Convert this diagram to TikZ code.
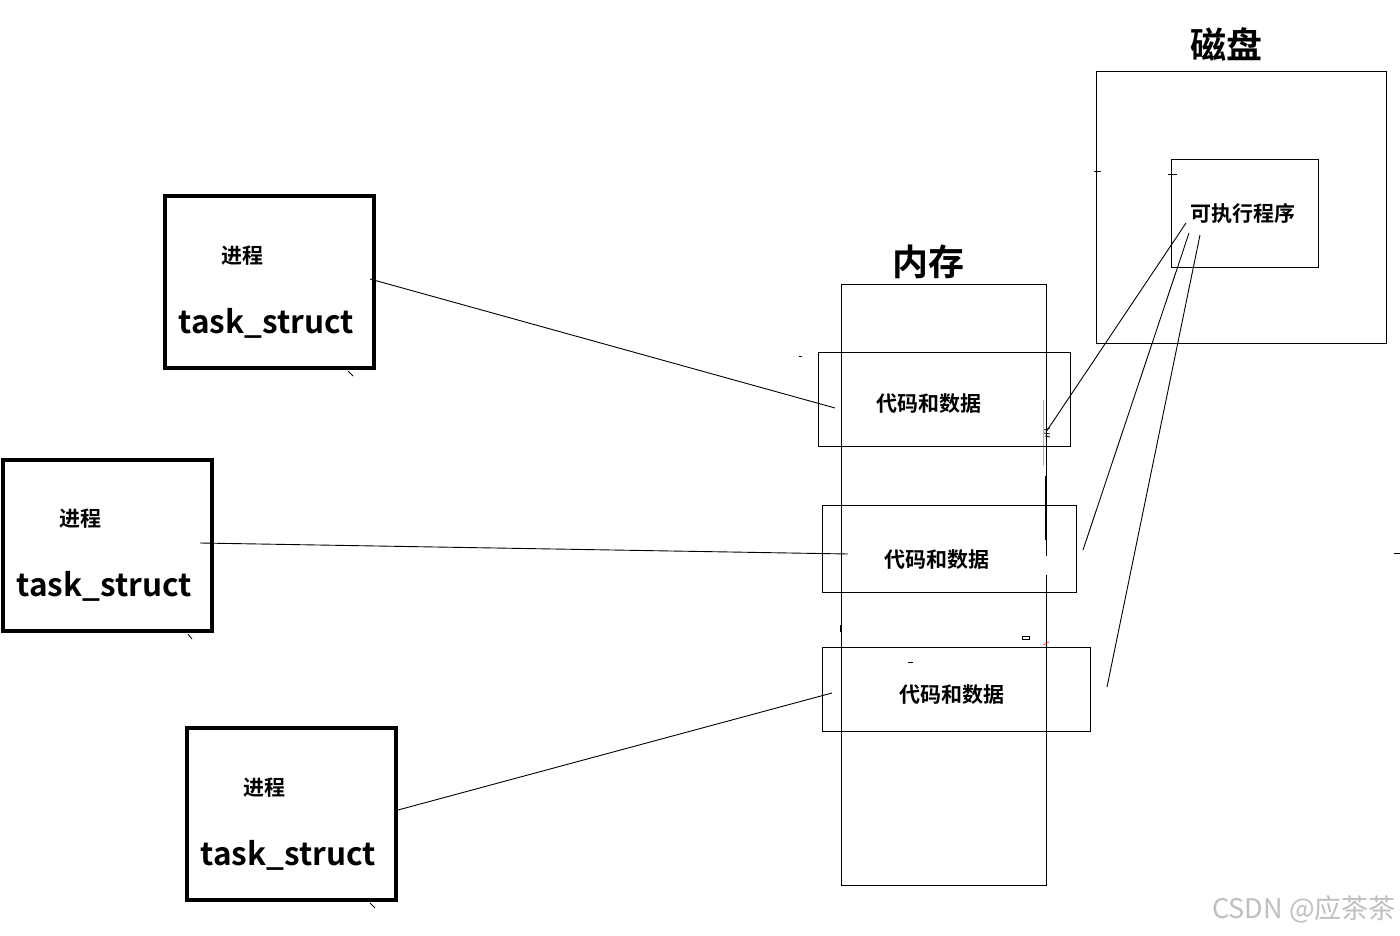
\documentclass[tikz,border=0pt]{standalone}
\usepackage{fontspec}
\setmainfont{Noto Sans CJK SC}
\newfontfamily\cjkb{Noto Sans CJK SC Bold}
\newfontfamily\cjkl{Noto Sans CJK SC Light}
\begin{document}
\begin{tikzpicture}[x=1pt,y=-1pt,
  proc/.style={draw,line width=4pt},
  thin/.style={draw,line width=1pt},
  small/.style={font=\cjkb\fontsize{21}{23}\selectfont},
  big/.style={font=\cjkb\fontsize{31.5}{35}\selectfont},
  title/.style={font=\cjkb\fontsize{36}{40}\selectfont},
  link/.style={line width=0.9pt},
  stray/.style={line width=0.8pt}]
\useasboundingbox[fill=white] (0,0) rectangle (1400,936);

% process boxes
\draw[proc] (165,196) rectangle (374,368);
\node[small] (p1) at (242,256) {进程};
\node[big] (t1) at (266,323) {task\_struct};
\draw[proc] (3,460) rectangle (212,631);
\node[small] (p2) at (80,519) {进程};
\node[big] (t2) at (104,586) {task\_struct};
\draw[proc] (187,728) rectangle (396,900);
\node[small] (p3) at (264,788) {进程};
\node[big] (t3) at (288,855) {task\_struct};

% memory
\node[title] (memt) at (928,262) {内存};
\draw[thin] (841,284) rectangle (1046,885);
\draw[line width=2pt] (1046,476) -- (1046,540);
\draw[line width=1.5pt, white] (1047,556) -- (1047,575);
\draw[line width=0.7pt, gray!60] (1043,400) -- (1043,466);

% code boxes
\draw[thin] (818,352) rectangle (1070,446);
\node[small] (c1) at (929,404) {代码和数据};
\draw[thin] (822,505) rectangle (1076,592);
\node[small] (c2) at (937,560) {代码和数据};
\draw[thin] (822,647) rectangle (1090,731);
\node[small] (c3) at (952,695) {代码和数据};

% disk
\node[title] (diskt) at (1226,44) {磁盘};
\draw[thin] (1096,72) rectangle (1386,343);
\draw[thin] (1171,160) rectangle (1318,267);
\node[small] (exe) at (1243,213) {可执行程序};

% links process -> code
\coordinate (a1) at (370,279); \coordinate (b1) at (835,408);
\coordinate (a2) at (200,543); \coordinate (b2) at (848,554);
\coordinate (a3) at (398,810); \coordinate (b3) at (832,693);
\draw[link] (a1) -- (b1);
\draw[link] (a2) -- (b2);
\draw[link] (a3) -- (b3);

% links executable -> code
\coordinate (e1) at (1186,223); \coordinate (f1) at (1046,432);
\coordinate (e2) at (1189,233); \coordinate (f2) at (1083,550);
\coordinate (e3) at (1200,235); \coordinate (f3) at (1107,687);
\draw[link] (e1) -- (f1);
\draw[link] (e2) -- (f2);
\draw[link] (e3) -- (f3);
\draw[stray] (1044,430) -- (1050,428) (1044,433) -- (1050,434) (1045,436) -- (1050,437);

% small stray marks
\draw[stray] (1094,171) -- (1101,171);
\draw[stray] (1168,174) -- (1177,174);
\draw[stray] (799,356) -- (802,356);
\draw[stray] (348,371) -- (353,376);
\draw[stray] (188,634) -- (192,639);
\draw[stray] (370,903) -- (375,908);
\draw[stray] (1394,553) -- (1400,553);
\draw[stray] (1022,636) rectangle (1029,639);
\draw[stray] (908,662) -- (913,662);
\draw[line width=1.5pt] (841,625) -- (841,632);
\draw[red, line width=0.6pt] (1043,645) -- (1049,642);

% watermark
\node[font=\fontsize{27}{30}\selectfont, text=gray!50] (wm) at (1304,909) {CSDN @应茶茶};
\end{tikzpicture}
\end{document}
